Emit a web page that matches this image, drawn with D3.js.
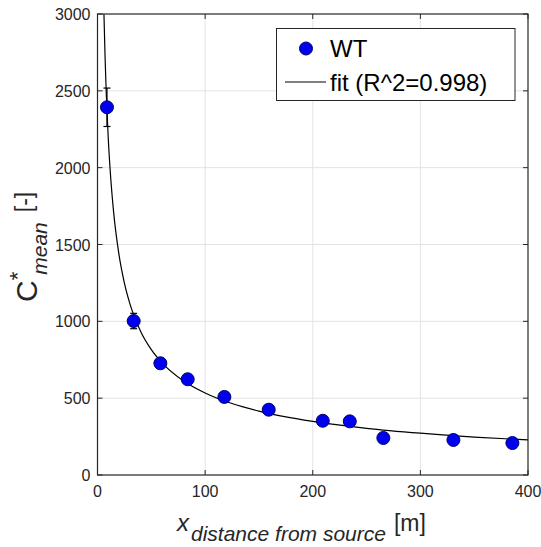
<!DOCTYPE html>
<html>
<head>
<meta charset="utf-8">
<script src="https://cdn.jsdelivr.net/npm/d3@7"></script>
<style>
  body { margin: 0; background: #fff; }
  svg { font-family: "Liberation Sans", Arial, sans-serif; }
</style>
</head>
<body>
<svg id="chart" width="541" height="547"></svg>
<script>
// measured points (WT) with error bars
const distance = [8.8, 33.6, 58.4, 83.8, 117.9, 159.1, 209.3, 234.4, 265.6, 330.7, 385.5];
const cMean = [2393, 1002, 727, 623, 508, 425, 353, 349, 241, 228, 208];
const cErr = [125, 50, 20, 18, 16, 15, 14, 14, 12, 12, 12];

// fit curve
const fitX = [6, 7, 8, 10, 12, 15, 20, 25, 30, 40, 50, 60, 80, 100, 125, 150, 200, 250, 300, 350, 400];
const fitY = [2999, 2728, 2513, 2192, 1960, 1709, 1432, 1249, 1117, 936, 816, 730, 612, 534, 465, 416, 349, 304, 272, 247, 228];

const xTicks = [0, 100, 200, 300, 400];
const yTicks = [0, 500, 1000, 1500, 2000, 2500, 3000];
const legendLabels = ["WT", "fit (R^2=0.998)"];

const axisColor = "#262626";
const gridColor = "#e3e3e3";

const svg = d3.select("#chart");
const plot = {left: 97.5, right: 528, top: 14, bottom: 475};

const x = d3.scaleLinear().domain([0, 400]).range([plot.left, plot.right]);
const y = d3.scaleLinear().domain([0, 3000]).range([plot.bottom, plot.top]);

// grid
const grid = svg.append("g");
grid.selectAll(".gx").data(xTicks.slice(1, -1)).join("line")
    .attr("x1", d => x(d)).attr("x2", d => x(d))
    .attr("y1", plot.top).attr("y2", plot.bottom)
    .attr("stroke", gridColor).attr("stroke-width", 1);
grid.selectAll(".gy").data(yTicks.slice(1, -1)).join("line")
    .attr("x1", plot.left).attr("x2", plot.right)
    .attr("y1", d => y(d)).attr("y2", d => y(d))
    .attr("stroke", gridColor).attr("stroke-width", 1);

// fit line
const line = d3.line()
    .x((d, i) => x(fitX[i]))
    .y(d => y(d))
    .curve(d3.curveMonotoneX);
svg.append("path")
    .datum(fitY)
    .attr("d", line)
    .attr("fill", "none")
    .attr("stroke", "#000")
    .attr("stroke-width", 1.2);

// error bars
const eb = svg.append("g").attr("stroke", "#000").attr("stroke-width", 1.2);
distance.forEach((d, i) => {
    const cx = x(d);
    const y0 = y(cMean[i] - cErr[i]), y1 = y(cMean[i] + cErr[i]);
    eb.append("line").attr("x1", cx).attr("x2", cx).attr("y1", y0).attr("y2", y1);
    eb.append("line").attr("x1", cx - 3.5).attr("x2", cx + 3.5).attr("y1", y0).attr("y2", y0);
    eb.append("line").attr("x1", cx - 3.5).attr("x2", cx + 3.5).attr("y1", y1).attr("y2", y1);
});

// markers
svg.append("g").selectAll("circle")
    .data(distance)
    .join("circle")
    .attr("cx", d => x(d))
    .attr("cy", (d, i) => y(cMean[i]))
    .attr("r", 6.5)
    .attr("fill", "#0000f0")
    .attr("stroke", "#00006a")
    .attr("stroke-width", 1);

// axes box with inward ticks
const tickLen = 5;
const axes = svg.append("g");
axes.append("rect")
    .attr("x", plot.left).attr("y", plot.top)
    .attr("width", plot.right - plot.left).attr("height", plot.bottom - plot.top)
    .attr("fill", "none").attr("stroke", axisColor).attr("stroke-width", 1.2);

xTicks.forEach(t => {
    axes.append("line").attr("x1", x(t)).attr("x2", x(t))
        .attr("y1", plot.bottom).attr("y2", plot.bottom - tickLen).attr("stroke", axisColor);
    axes.append("line").attr("x1", x(t)).attr("x2", x(t))
        .attr("y1", plot.top).attr("y2", plot.top + tickLen).attr("stroke", axisColor);
    axes.append("text")
        .attr("x", x(t)).attr("y", plot.bottom + 22)
        .attr("text-anchor", "middle")
        .attr("font-size", 16).attr("fill", axisColor)
        .text(t);
});
yTicks.forEach(t => {
    axes.append("line").attr("x1", plot.left).attr("x2", plot.left + tickLen)
        .attr("y1", y(t)).attr("y2", y(t)).attr("stroke", axisColor);
    axes.append("line").attr("x1", plot.right).attr("x2", plot.right - tickLen)
        .attr("y1", y(t)).attr("y2", y(t)).attr("stroke", axisColor);
    axes.append("text")
        .attr("x", plot.left - 7).attr("y", y(t) + 6)
        .attr("text-anchor", "end")
        .attr("font-size", 16).attr("fill", axisColor)
        .text(t);
});

// x label: x_{distance from source} [m]
const xl = svg.append("text")
    .attr("x", 177).attr("y", 531)
    .attr("fill", axisColor);
xl.append("tspan").attr("font-size", 24).attr("font-style", "italic").text("x");
xl.append("tspan").attr("font-size", 21).attr("font-style", "italic")
    .attr("dx", 2).attr("dy", 10).text("distance from source");
xl.append("tspan").attr("font-size", 23)
    .attr("dx", 8).attr("dy", -10).text("[m]");

// y label: C^*_{mean} [-]
const yl = svg.append("text")
    .attr("transform", "translate(37,302) rotate(-90)")
    .attr("fill", axisColor);
yl.append("tspan").attr("font-size", 30).text("C");
yl.append("tspan").attr("font-size", 22).attr("dy", -12).text("*");
yl.append("tspan").attr("font-size", 21).attr("font-style", "italic")
    .attr("dx", -3).attr("dy", 22).text("mean");
yl.append("tspan").attr("font-size", 23)
    .attr("dx", 10).attr("dy", -15).text("[-]");

// legend
const lg = svg.append("g");
lg.append("rect")
    .attr("x", 276.5).attr("y", 28.5)
    .attr("width", 238.5).attr("height", 72)
    .attr("fill", "#fff").attr("stroke", axisColor).attr("stroke-width", 1);
lg.append("circle")
    .attr("cx", 306).attr("cy", 48.5).attr("r", 6.5)
    .attr("fill", "#0000f0").attr("stroke", "#00006a");
lg.append("line")
    .attr("x1", 285).attr("x2", 326).attr("y1", 82).attr("y2", 82)
    .attr("stroke", "#000").attr("stroke-width", 1.2);
lg.selectAll("text.lbl").data(legendLabels).join("text")
    .attr("x", 330).attr("y", (d, i) => 57 + i * 34)
    .attr("font-size", 24).attr("fill", "#000")
    .text(d => d);
</script>
</body>
</html>
